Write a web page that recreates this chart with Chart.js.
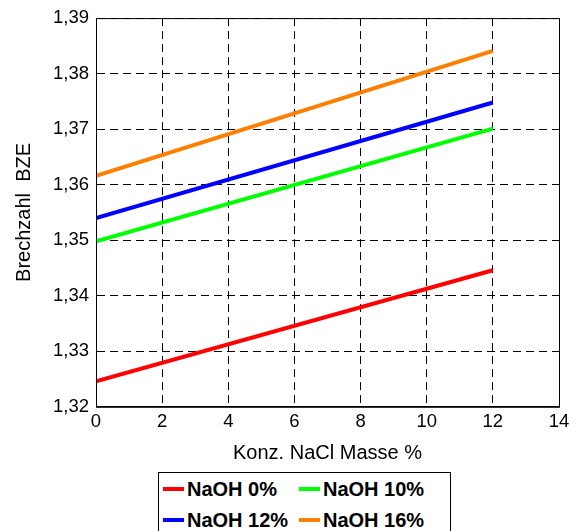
<!DOCTYPE html>
<html>
<head>
<meta charset="utf-8">
<script src="https://cdn.jsdelivr.net/npm/chart.js@4"></script>
<style>
  body { margin: 0; width: 579px; height: 531px; overflow: hidden; background: #fff; font-family: Arial, "Liberation Sans", sans-serif; }
  #wrap { position: absolute; left: 0; top: 0; width: 579px; height: 467px; }
  #legend { position: absolute; left: 158px; top: 472px; width: 293px; height: 80px; border: 1px solid #000; box-sizing: border-box; }
  .item { position: absolute; font-weight: bold; font-size: 20px; line-height: 20px; color: #000; white-space: nowrap; }
  .item span { display: inline-block; width: 21px; height: 4px; margin-right: 3px; vertical-align: middle; position: relative; top: -2px; }
</style>
</head>
<body>
<div id="wrap"><canvas id="mycanvas"></canvas></div>
<div id="legend"></div>
<script>
// Konz. NaCl Masse % (x) and Brechzahl values
var xValues = [0, 12]
var naoh0 = [1.3246, 1.3446]
var naoh10 = [1.3498, 1.3701]
var naoh12 = [1.3540, 1.3748]
var naoh16 = [1.3616, 1.3841]
var seriesNames = ['NaOH 0%', 'NaOH 10%', 'NaOH 12%', 'NaOH 16%']
var seriesColors = ['#ff0000', '#00ff00', '#0000ff', '#ff8000']

function points(ys){
    return ys.map(function(y, i){ return {x: xValues[i], y: y} })
}

var allSeries = [naoh0, naoh10, naoh12, naoh16]
var datasets = allSeries.map(function(s, i){
    return {
        label: seriesNames[i],
        data: points(s),
        borderColor: seriesColors[i],
        backgroundColor: seriesColors[i],
        borderWidth: 4,
        pointRadius: 0,
        fill: false
    }
})

// solid frame round the plot area
var frame = {
    id: 'frame',
    afterDraw: function(chart){
        var a = chart.chartArea, c = chart.ctx
        c.save()
        c.strokeStyle = '#000'
        c.lineWidth = 1
        c.setLineDash([])
        c.strokeRect(a.left + 0.5, a.top + 0.5, a.right - a.left, a.bottom - a.top)
        c.restore()
    }
}

var tickFont = {family: 'Arial, "Liberation Sans", sans-serif', size: 18.5}
var titleFont = {family: 'Arial, "Liberation Sans", sans-serif', size: 20}

new Chart(document.getElementById('mycanvas').getContext('2d'), {
    type: 'line',
    data: {datasets: datasets},
    plugins: [frame],
    options: {
        responsive: true,
        maintainAspectRatio: false,
        animation: false,
        layout: {padding: {left: 8, top: 11, right: 20, bottom: 0}},
        plugins: {legend: {display: false}, tooltip: {enabled: false}},
        scales: {
            x: {
                type: 'linear',
                min: 0, max: 14,
                ticks: {stepSize: 2, color: '#000', font: tickFont, padding: 4, maxRotation: 0},
                grid: {color: '#000', drawTicks: false},
                border: {color: '#000', dash: [8, 5]},
                title: {display: true, text: 'Konz. NaCl Masse %', color: '#000', font: titleFont, padding: {top: 4, bottom: 2}}
            },
            y: {
                min: 1.32, max: 1.39,
                afterFit: function(scale){ scale.width = 88 },
                ticks: {stepSize: 0.01, color: '#000', font: tickFont, padding: 7,
                    callback: function(v){ return v.toFixed(2).replace('.', ',') }},
                grid: {color: '#000', drawTicks: false},
                border: {color: '#000', dash: [8, 5]},
                title: {display: true, text: 'Brechzahl  BZE', color: '#000', font: titleFont, padding: {top: 4, bottom: 4}}
            }
        }
    }
})

// legend box, two columns
var legend = document.getElementById('legend')
var pos = [[4, 6], [140, 6], [4, 37], [140, 37]]
seriesNames.forEach(function(name, i){
    var d = document.createElement('div')
    d.className = 'item'
    d.style.left = pos[i][0] + 'px'
    d.style.top = pos[i][1] + 'px'
    d.innerHTML = '<span style="background:' + seriesColors[i] + '"></span>' + name
    legend.appendChild(d)
})
</script>
</body>
</html>
